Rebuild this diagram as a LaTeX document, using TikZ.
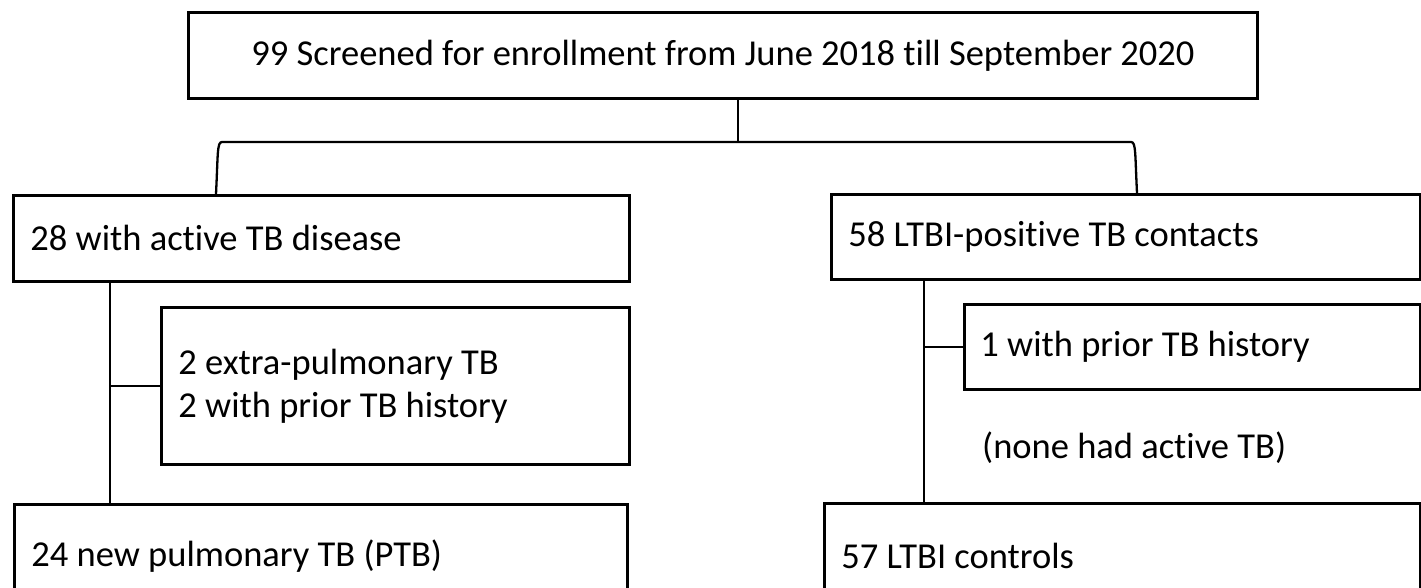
\documentclass[tikz,border=0pt]{standalone}
\usepackage{fontspec}
\setmainfont{Carlito}[Ligatures=CommonOff]
\usetikzlibrary{calc, positioning}

\begin{document}
\begin{tikzpicture}[x=1pt, y=-1pt,
  box/.style={draw, line width=2.9pt, anchor=north west, inner xsep=17pt, inner ysep=0pt, align=flush left},
  link/.style={line width=2.3pt},
  every node/.style={font=\fontsize{36.5}{43}\selectfont}]
\clip (0,0) rectangle (1421,588);

% boxes
\node[box, align=flush center, text width=1035pt, minimum height=86pt] (top) at (187,11)
  {99 Screened for enrollment from June 2018 till September 2020};
\node[box, text width=582pt, minimum height=86pt] (active) at (12,194) {28 with active TB disease};
\node[box, text width=434pt, minimum height=157pt] (epx) at (160,306)
  {2 extra-pulmonary TB\\2 with prior TB history};
\node[box, text width=579pt, minimum height=104pt] (ptb) at (13,503) {24 new pulmonary TB (PTB)};

\node[box, text width=555pt, minimum height=85pt] (ltbi) at (830,193) {58 LTBI-positive TB contacts};
\node[box, inner xsep=16pt, text width=424pt, minimum height=85pt] (prior) at (963,303) {1 with prior TB history};
\node[anchor=west, inner sep=0pt] (none) at (982,448) {(none had active TB)};
\node[box, text width=562pt, minimum height=106pt] (ctrl) at (823,502) {57 LTBI controls};

% connectors
\coordinate (jn) at (738,142);
\coordinate (bl) at (222,142);
\coordinate (br) at (1131,142);
\coordinate (lf) at (216,0);
\coordinate (rf) at (1137,0);
\coordinate (lx) at (110,0);
\coordinate (rx) at (924,0);

\draw[link] (top.south -| jn) -- (jn);
\draw[link] (active.north -| lf) .. controls +(2,-40) and +(-5,0) .. (bl) -- (br)
  .. controls +(5,0) and +(-2,-40) .. (ltbi.north -| rf);

\draw[link] (active.south -| lx) -- (ptb.north -| lx);
\draw[link] (lx |- epx.west) -- (epx.west);
\draw[link] (ltbi.south -| rx) -- (ctrl.north -| rx);
\draw[link] (rx |- prior.west) -- (prior.west);
\end{tikzpicture}
\end{document}
